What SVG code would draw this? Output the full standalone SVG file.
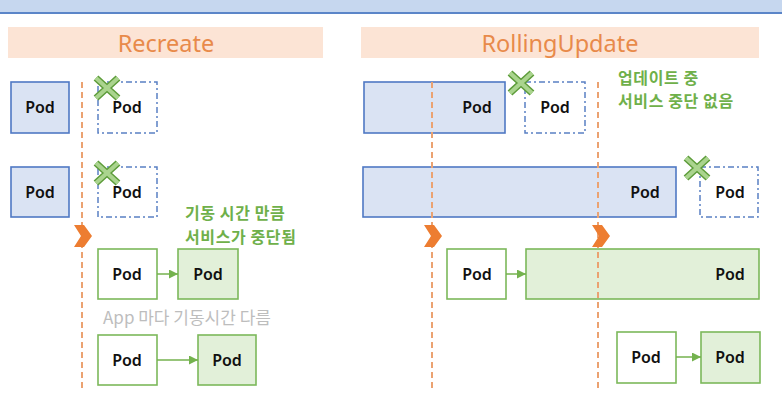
<svg xmlns="http://www.w3.org/2000/svg" width="782" height="403" viewBox="0 0 782 403">
<defs>
<style>
.pod{font-family:"Noto Sans","Liberation Sans",sans-serif;font-size:16px;font-weight:600;fill:#111;text-anchor:middle;dominant-baseline:central}
.title{font-family:"Noto Sans","Liberation Sans",sans-serif;font-size:23.5px;fill:#e88a4a;text-anchor:middle;dominant-baseline:central}
.gnote{font-family:"Noto Sans CJK KR","Noto Sans",sans-serif;font-size:16px;letter-spacing:0.6px;font-weight:700;fill:#6fb04a;dominant-baseline:central}
.gray{font-family:"Noto Sans CJK KR","Noto Sans",sans-serif;font-size:17px;fill:#bdbdbd;dominant-baseline:central}
.bar{fill:#fce4d5}
.blue{fill:#dae3f3;stroke:#4f78c4;stroke-width:1.6}
.old{fill:#fff;stroke:#5a80c4;stroke-width:1.5;stroke-dasharray:6 3 2 3}
.new{fill:#fff;stroke:#7cb85a;stroke-width:1.6}
.green{fill:#e2f0d9;stroke:#7cb85a;stroke-width:1.6}
.tl{stroke:#eba271;stroke-width:2;stroke-dasharray:6 4;fill:none}
.chev{fill:#ed7d31}
.arr{stroke:#74b24e;stroke-width:1.5;fill:none;marker-end:url(#ah)}
.xo{stroke:#5d9c3a;stroke-width:7;fill:none}
.xi{stroke:#aad48e;stroke-width:4;fill:none}
</style>
<marker id="ah" viewBox="0 0 10 10" refX="10" refY="5" markerWidth="9" markerHeight="9" markerUnits="userSpaceOnUse" orient="auto">
<path d="M0,0 L10,5 L0,10 Z" fill="#74b24e"/>
</marker>
<g id="xmark">
<path class="xo" d="M-11,-10 L11,10 M-11,10 L11,-10"/>
<path class="xi" d="M-11,-10 L11,10 M-11,10 L11,-10"/>
</g>
</defs>
<rect width="782" height="403" fill="#fff"/>
<rect x="0" y="0" width="782" height="12" fill="#c6d7ef"/>
<rect x="0" y="12" width="782" height="2" fill="#5b85c8"/>

<g id="recreate-header">
<rect class="bar" x="8" y="27" width="315" height="31"/>
<text class="title" x="166" y="43">Recreate</text>
</g>
<g id="rolling-header">
<rect class="bar" x="361" y="27" width="398" height="31"/>
<text class="title" x="560" y="43">RollingUpdate</text>
</g>

<!-- Recreate -->
<g id="rc-old1"><rect class="blue" x="11" y="82" width="58" height="51"/><text class="pod" x="40" y="107">Pod</text></g>
<g id="rc-old2"><rect class="blue" x="11" y="167" width="58" height="50"/><text class="pod" x="40" y="192">Pod</text></g>
<g id="rc-term1"><rect class="old" x="98" y="82" width="59" height="51"/><text class="pod" x="127" y="107">Pod</text></g>
<g id="rc-term2"><rect class="old" x="98" y="167" width="59" height="50"/><text class="pod" x="127" y="192">Pod</text></g>
<g id="rc-new1a"><rect class="new" x="98" y="249" width="59" height="50"/><text class="pod" x="127" y="274">Pod</text></g>
<g id="rc-new1b"><rect class="green" x="178" y="249" width="60" height="50"/><text class="pod" x="208" y="274">Pod</text></g>
<g id="rc-new2a"><rect class="new" x="98" y="335" width="59" height="50"/><text class="pod" x="127" y="360">Pod</text></g>
<g id="rc-new2b"><rect class="green" x="198" y="335" width="58" height="50"/><text class="pod" x="227" y="360">Pod</text></g>

<!-- RollingUpdate -->
<g id="ru-old1"><rect class="blue" x="364" y="82" width="141" height="51"/><text class="pod" x="477" y="107">Pod</text></g>
<g id="ru-term1"><rect class="old" x="525" y="82" width="60" height="51"/><text class="pod" x="555" y="107">Pod</text></g>
<g id="ru-old2"><rect class="blue" x="363" y="167" width="313" height="50"/><text class="pod" x="645" y="192">Pod</text></g>
<g id="ru-term2"><rect class="old" x="700" y="167" width="58" height="50"/><text class="pod" x="730" y="192">Pod</text></g>
<g id="ru-new1a"><rect class="new" x="447" y="249" width="59" height="50"/><text class="pod" x="477" y="274">Pod</text></g>
<g id="ru-new1b"><rect class="green" x="526" y="249" width="233" height="50"/><text class="pod" x="730" y="274">Pod</text></g>
<g id="ru-new2a"><rect class="new" x="617" y="332" width="59" height="51"/><text class="pod" x="646" y="357">Pod</text></g>
<g id="ru-new2b"><rect class="green" x="701" y="332" width="59" height="51"/><text class="pod" x="730" y="357">Pod</text></g>

<g id="timelines">
<line class="tl" x1="82" y1="82" x2="82" y2="390"/>
<line class="tl" x1="432" y1="82" x2="432" y2="390"/>
<line class="tl" x1="598" y1="82" x2="598" y2="390"/>
<path class="chev" d="M74,225 L84,225 L92,236 L84,247 L74,247 L81,236 Z"/>
<path class="chev" d="M424,225 L434,225 L442,236 L434,247 L424,247 L431,236 Z"/>
<path class="chev" d="M592,225 L602,225 L610,236 L602,247 L592,247 L599,236 Z"/>
</g>

<g id="xmarks">
<use href="#xmark" x="107" y="88"/>
<use href="#xmark" x="107" y="173"/>
<use href="#xmark" x="521" y="83"/>
<use href="#xmark" x="697" y="168"/>
</g>

<g id="connectors">
<line class="arr" x1="157" y1="274" x2="178" y2="274"/>
<line class="arr" x1="157" y1="360" x2="198" y2="360"/>
<line class="arr" x1="506" y1="274" x2="526" y2="274"/>
<line class="arr" x1="676" y1="357" x2="701" y2="357"/>
</g>

<g id="notes">
<text class="gnote" x="185" y="212">기동 시간 만큼</text>
<text class="gnote" x="185" y="236">서비스가 중단됨</text>
<text class="gray" x="103" y="316">App 마다 기동시간 다름</text>
<text class="gnote" x="618" y="77">업데이트 중</text>
<text class="gnote" x="618" y="100">서비스 중단 없음</text>
</g>
</svg>
